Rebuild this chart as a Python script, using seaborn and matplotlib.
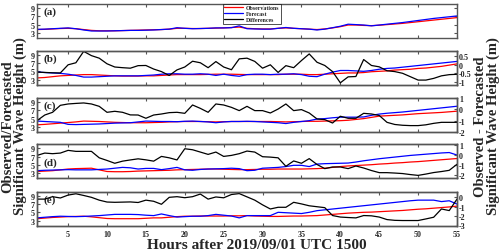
import numpy as np
import pandas as pd
import matplotlib
matplotlib.use("Agg")
import matplotlib.pyplot as plt
import seaborn as sns

hours = list(range(1, 56))

a_obs = [3.8, 3.85, 3.95, 4.05, 4.1, 4.0, 3.8, 3.6, 3.5, 3.5, 3.5, 3.55, 3.6, 3.65, 3.7, 3.75, 3.8, 3.9, 4.1, 4.1,
         4.05, 4.05, 4.1, 4.15, 4.2, 4.3, 4.4, 4.1, 4.0, 3.95, 3.95, 4.1, 4.2, 4.1, 4.0, 3.9, 3.8, 3.95, 4.2, 4.5,
         4.9, 4.9, 4.8, 4.75, 4.85, 5.0, 5.15, 5.3, 5.5, 5.7, 5.9, 6.1, 6.3, 6.5, 6.7]
a_fcst = [3.85, 3.9, 4.0, 4.1, 4.2, 4.0, 3.7, 3.45, 3.45, 3.45, 3.5, 3.55, 3.6, 3.6, 3.65, 3.7, 3.8, 3.9, 4.25, 4.1,
          4.0, 4.05, 4.1, 4.2, 4.2, 4.25, 4.7, 4.0, 3.95, 3.9, 3.9, 4.1, 4.3, 4.1, 4.0, 3.9, 3.7, 3.9, 4.25, 4.6,
          5.1, 5.0, 4.9, 4.7, 4.9, 5.1, 5.3, 5.5, 5.75, 6.0, 6.25, 6.5, 6.7, 6.9, 7.1]

b_obs = [3.4, 3.5, 3.7, 3.9, 4.0, 4.1, 4.2, 4.2, 4.1, 4.0, 3.9, 3.85, 3.85, 3.85, 3.9, 3.9, 4.0, 4.1, 4.2, 4.2,
         4.2, 4.2, 4.25, 4.3, 4.3, 4.3, 4.25, 4.2, 4.2, 4.2, 4.2, 4.2, 4.3, 4.3, 4.3, 4.2, 4.2, 4.3, 4.4, 4.5,
         4.6, 4.6, 4.7, 4.9, 5.0, 5.1, 5.3, 5.4, 5.5, 5.7, 5.8, 6.0, 6.2, 6.5, 6.8]
b_fcst = [4.85, 4.7, 4.6, 4.5, 4.3, 4.0, 3.6, 3.6, 3.7, 3.8, 3.9, 3.9, 3.9, 3.9, 4.0, 4.1, 4.3, 4.4, 4.4, 4.3,
          4.3, 4.4, 4.3, 4.0, 4.3, 4.0, 3.8, 4.2, 4.3, 4.3, 4.2, 4.3, 4.3, 4.4, 4.2, 3.8, 3.7, 4.3, 4.8, 5.2,
          5.2, 5.1, 5.0, 5.2, 5.5, 5.7, 5.8, 6.0, 6.2, 6.4, 6.6, 6.8, 7.0, 7.2, 7.4]
b_diff = [-0.43, -0.45, -0.47, -0.48, 0.0, 0.12, 0.79, 0.54, 0.39, 0.06, -0.13, -0.17, -0.2, -0.05, -0.04, -0.25,
          -0.4, -0.63, -0.3, -0.13, 0.21, 0.12, -0.17, 0.19, -0.13, -0.29, 0.35, 0.39, 0.2, -0.2, 0.0, -0.45,
          -0.05, -0.17, 0.25, 0.64, 0.15, -0.04, -0.4, -1.06, -0.71, -0.69, 0.31, -0.04, -0.12, -0.35, -0.4,
          -0.5, -0.7, -0.9, -0.9, -0.8, -0.65, -0.58, -0.56]

c_obs = [3.5, 3.6, 3.75, 3.9, 4.05, 4.2, 4.4, 4.35, 4.3, 4.2, 4.1, 4.05, 4.0, 4.0, 4.0, 4.05, 4.1, 4.2, 4.25, 4.3,
         4.3, 4.3, 4.25, 4.2, 4.25, 4.3, 4.3, 4.3, 4.3, 4.3, 4.3, 4.25, 4.2, 4.25, 4.3, 4.35, 4.35, 4.4, 4.45, 4.5,
         4.6, 4.8, 5.0, 5.3, 5.6, 5.7, 5.8, 5.9, 6.05, 6.2, 6.3, 6.4, 6.5, 6.65, 6.8]
c_fcst = [4.4, 4.3, 4.2, 4.1, 3.6, 3.55, 3.6, 3.65, 3.7, 3.8, 3.9, 3.95, 4.0, 4.2, 4.4, 4.35, 4.3, 4.3, 4.25, 4.35,
          4.4, 4.3, 4.2, 4.0, 4.2, 4.3, 4.3, 4.35, 4.3, 4.2, 4.1, 4.0, 3.8, 4.1, 4.3, 4.5, 4.9, 5.0, 5.2, 5.35,
          5.35, 5.35, 5.4, 5.8, 6.1, 6.3, 6.45, 6.6, 6.8, 7.0, 7.2, 7.4, 7.6, 7.8, 8.0]
c_diff = [-1.01, -0.51, -0.27, 0.35, 0.47, 0.52, 0.56, 0.47, 0.26, -0.27, -0.18, -0.27, -0.5, -0.51, -0.8, -0.51,
          -0.42, -0.3, -0.27, -0.36, 0.38, 0.08, -0.27, 0.47, 0.38, 0.17, -0.12, 0.26, -0.12, -0.12, -0.33, 0.02,
          0.47, -0.12, -0.03, -0.33, -0.86, -0.92, -1.22, -0.62, -0.8, -0.8, -0.36, -0.42, -0.55, -1.16, -1.35,
          -1.42, -1.45, -1.45, -1.38, -1.25, -1.16, -1.16, -1.16]

d_obs = [3.4, 3.5, 3.6, 3.8, 4.0, 4.1, 4.15, 4.2, 3.8, 3.4, 3.35, 3.35, 3.4, 3.5, 3.55, 3.6, 3.65, 3.7, 3.8, 3.85,
         3.9, 3.95, 4.0, 4.0, 3.95, 3.9, 3.85, 3.85, 3.9, 3.95, 3.95, 4.0, 4.0, 4.0, 4.0, 4.05, 4.1, 4.2, 4.4, 4.6,
         4.75, 4.85, 4.95, 5.05, 5.2, 5.3, 5.45, 5.55, 5.7, 5.8, 5.95, 6.1, 6.25, 6.4, 6.55]
d_fcst = [3.6, 3.7, 3.75, 3.8, 3.85, 3.8, 3.8, 3.8, 3.9, 4.0, 4.2, 4.4, 4.3, 4.0, 4.15, 4.15, 3.85, 4.1, 4.4, 3.8,
          3.7, 3.9, 4.0, 4.05, 4.1, 4.2, 4.1, 3.6, 3.7, 4.2, 4.3, 4.4, 4.6, 4.9, 4.9, 4.6, 5.2, 5.3, 5.35, 5.4,
          5.45, 5.7, 6.0, 6.25, 6.5, 6.7, 6.9, 7.1, 7.3, 7.45, 7.6, 7.75, 7.9, 8.0, 7.4]
d_diff = [-0.05, 0.18, 0.12, 0.18, 0.45, 0.35, 0.35, 0.35, -0.29, -0.55, -0.83, -0.62, -0.5, -0.39, -0.49, -0.62,
          -0.15, -0.29, -0.5, 0.61, 0.51, 0.28, 0.05, 0.28, -0.15, -0.05, 0.12, 0.38, 0.28, -0.18, -0.22, -0.29,
          -1.13, -0.6, -0.83, -0.37, -0.95, -1.36, -1.2, -1.2, -1.36, -1.1, -1.3, -1.55, -1.76, -1.76, -1.8,
          -1.85, -1.95, -2.03, -1.9, -1.75, -1.65, -1.53, -0.93]

e_obs = [3.45, 3.6, 3.75, 3.85, 3.95, 4.0, 4.05, 3.9, 3.7, 3.5, 3.45, 3.45, 3.45, 3.45, 3.55, 3.65, 3.65, 3.8, 3.95,
         4.05, 4.05, 4.1, 4.1, 4.1, 4.1, 4.15, 4.15, 4.2, 4.1, 4.05, 4.0, 4.0, 4.05, 4.1, 4.1, 4.15, 4.2, 4.35,
         4.5, 4.65, 4.8, 4.9, 5.0, 5.05, 5.15, 5.25, 5.35, 5.45, 5.6, 5.75, 5.85, 6.0, 6.15, 6.3, 6.5]
e_fcst = [3.65, 3.8, 3.95, 4.05, 4.0, 3.95, 4.0, 4.1, 4.2, 4.35, 4.5, 4.5, 4.5, 4.45, 4.3, 4.2, 4.6, 4.2, 3.85,
          3.95, 4.05, 4.05, 4.2, 4.5, 4.3, 4.1, 3.65, 4.2, 4.2, 4.2, 4.2, 5.0, 4.9, 4.8, 4.7, 5.0, 5.4, 5.6, 5.8,
          6.0, 6.2, 6.4, 6.6, 6.8, 7.0, 7.2, 7.4, 7.6, 7.8, 7.95, 7.95, 7.95, 7.6, 7.8, 7.0]
e_diff = [-0.19, -0.19, 0.07, -0.07, 0.24, 0.38, 0.2, 0.0, -0.3, -0.5, -0.53, -0.51, -0.49, -0.55, -0.3, -0.42,
          -0.74, 0.0, 0.07, -0.04, 0.07, 0.35, -0.19, 0.04, -0.05, 0.3, 0.4, 0.05, -0.3, -0.8, -1.24, -1.06, -1.06,
          -0.53, -0.7, -0.9, -1.0, -1.1, -1.94, -2.1, -2.15, -2.19, -1.94, -1.97, -2.1, -2.37, -2.45, -2.47,
          -2.47, -2.47, -2.3, -2.12, -1.24, -1.41, -0.19]

panel_labels = ["(a)", "(b)", "(c)", "(d)", "(e)"]
obs_list = [a_obs, b_obs, c_obs, d_obs, e_obs]
fcst_list = [a_fcst, b_fcst, c_fcst, d_fcst, e_fcst]
diff_list = [None, b_diff, c_diff, d_diff, e_diff]
left_ticks = [3, 5, 7, 9]
right_ticks = [None, [-1, -0.5, 0, 0.5], [-2, -1, 0, 1], [-2, -1, 0, 1], [-3, -2, -1, 0]]
right_ticklabels = [None, ["-1", "-0.5", "0", "0.5"], ["-2", "-1", "0", "1"], ["-2", "-1", "0", "1"],
                    ["-3", "-2", "-1", "0"]]
right_lims = [None, (-1.16, 0.83), (-2.0, 1.0), (-2.3, 1.05), (-3.0, 0.6)]
x_ticks = [5, 10, 15, 20, 25, 30, 35, 40, 45, 50, 55]

sns.set_theme(style="ticks")
plt.rcParams["font.family"] = ["Liberation Serif", "DejaVu Serif"]
plt.rcParams["font.weight"] = "bold"
plt.rcParams["axes.unicode_minus"] = False

fig = plt.figure(figsize=(5.0, 2.53), dpi=100)
W, H = 500.0, 253.0
left, right = 37 / W, 457 / W
tops = [5, 51.7, 99, 145.3, 192.7]
ph = 33.8
frame_col = "#555555"

for i in range(5):
    ax = fig.add_axes([left, 1 - (tops[i] + ph) / H, right - left, ph / H])
    df = pd.DataFrame({"hour": hours, "obs": obs_list[i], "fcst": fcst_list[i]})
    sns.lineplot(data=df, x="hour", y="obs", color="red", lw=0.9, ax=ax, label="Observations")
    sns.lineplot(data=df, x="hour", y="fcst", color="blue", lw=0.9, ax=ax, label="Forecast")
    ax.set_xlim(1, 55)
    ax.set_ylim(1.8, 10)
    ax.set_yticks(left_ticks)
    ax.set_xticks(x_ticks)
    ax.set_xlabel("")
    ax.set_ylabel("")
    ax.tick_params(direction="in", length=2.5, width=0.8, labelsize=5.8, pad=1.5,
                   top=True, right=(i == 0), color=frame_col)
    ax.tick_params(axis="x", pad=3.5)
    for lab in ax.get_yticklabels() + ax.get_xticklabels():
        lab.set_fontweight("bold")
    if i < 4:
        ax.tick_params(labelbottom=False)
    for s in ax.spines.values():
        s.set_color(frame_col)
        s.set_linewidth(1.0)
        s.set_visible(True)
    ax.text(0.015, 0.93 if i != 3 else 0.62, panel_labels[i], transform=ax.transAxes, ha="left", va="top",
            fontsize=8, fontweight="bold")
    if i == 0:
        ax.plot([], [], color="black", lw=0.9, label="Differences")
        leg = ax.legend(loc="upper left", bbox_to_anchor=(0.442, 1.01), fontsize=4.2, frameon=True,
                        fancybox=False, edgecolor="black", handlelength=3.2, borderpad=0.3,
                        labelspacing=0.15, handletextpad=0.5, borderaxespad=0)
        leg.get_frame().set_linewidth(0.6)
        for t in leg.get_texts():
            t.set_fontweight("bold")
    else:
        if ax.get_legend():
            ax.get_legend().remove()
        ax2 = ax.twinx()
        ddf = pd.DataFrame({"hour": hours, "diff": diff_list[i]})
        sns.lineplot(data=ddf, x="hour", y="diff", color="black", lw=0.9, ax=ax2)
        ax2.set_ylim(*right_lims[i])
        ax2.set_yticks(right_ticks[i])
        ax2.set_yticklabels(right_ticklabels[i], fontweight="bold")
        ax2.set_ylabel("")
        ax2.set_xlabel("")
        ax2.tick_params(direction="in", length=2.5, width=0.8, labelsize=5.8, pad=1.5, color=frame_col)
        for s in ax2.spines.values():
            s.set_color(frame_col)
            s.set_linewidth(1.0)
            s.set_visible(True)
        ax2.set_xlim(1, 55)

fig.text(0.5 * (left + right) + 0.02, 0.004, "Hours after 2019/09/01 UTC 1500", ha="center", va="bottom",
         fontsize=11, fontweight="bold")
fig.text(0.002, 0.5, "Observed/Forecasted\nSignificant Wave Height (m)", rotation=90, ha="left",
         va="center", fontsize=10.5, fontweight="bold", multialignment="center", linespacing=0.95)
fig.text(0.999, 0.5, "Observed - Forecasted\nSignificant Wave Height (m)", rotation=90, ha="right",
         va="center", fontsize=10.5, fontweight="bold", multialignment="center", linespacing=0.95)

fig.savefig("out.png", dpi=100)
